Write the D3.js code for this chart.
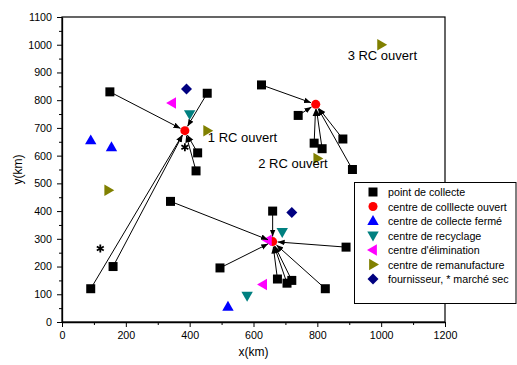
<!DOCTYPE html>
<html>
<head>
<meta charset="utf-8">
<script src="https://cdn.jsdelivr.net/npm/d3@7"></script>
<style>
  body { margin: 0; background: #fff; }
  svg { font-family: "Liberation Sans", Arial, sans-serif; }
</style>
</head>
<body>
<div id="chart"></div>
<script>
// data (km)
const collectPoints = [
  [150, 830], [455, 825], [425, 610], [420, 545], [90, 120], [160, 200],
  [625, 855], [740, 745], [790, 645], [815, 625], [880, 660], [910, 550],
  [660, 400], [340, 435], [495, 195], [675, 155], [705, 140], [720, 150], [825, 120], [890, 270]
]
// index of the open centre each collection point goes to
const assignTo = [0, 0, 0, 0, 0, 0, 1, 1, 1, 1, 1, 1, 2, 2, 2, 2, 2, 2, 2, 2]
const openCentres = [[385, 690], [795, 785], [660, 290]]
const closedCentres = [[90, 655], [155, 630], [520, 55]]
const recycling = [[400, 750], [690, 325], [580, 95]]
const disposal = [[345, 790], [645, 295], [630, 135]]
const remanufacture = [[455, 690], [800, 590], [1000, 1000], [145, 475]]
const suppliers = [[390, 840], [720, 395]]
const dryMarkets = [[385, 630], [120, 265]]
const rcLabels = [
  { text: "1 RC ouvert", x: 457, y: 650 },
  { text: "2 RC ouvert", x: 615, y: 555 },
  { text: "3 RC ouvert", x: 895, y: 945 }
]
const xTicks = [0, 200, 400, 600, 800, 1000, 1200]
const yTicks = [0, 100, 200, 300, 400, 500, 600, 700, 800, 900, 1000, 1100]

const legendItems = [
  { name: "point de collecte", shape: "square", color: "#000000" },
  { name: "centre de colllecte ouvert", shape: "circle", color: "#ff0000" },
  { name: "centre de collecte fermé", shape: "up", color: "#0000ff" },
  { name: "centre de recyclage", shape: "down", color: "#008080" },
  { name: "centre d'élimination", shape: "left", color: "#ff00ff" },
  { name: "centre de remanufacture", shape: "right", color: "#808000" },
  { name: "fournisseur, * marché sec", shape: "diamond", color: "#000080" }
]

const width = 517
const height = 365
const margin = { left: 62, right: 72, top: 17, bottom: 43 }

const svg = d3.select("#chart")
  .append("svg")
  .attr("width", width)
  .attr("height", height)

const x = d3.scaleLinear().domain([0, 1200]).range([margin.left, width - margin.right])
const y = d3.scaleLinear().domain([0, 1100]).range([height - margin.bottom, margin.top])

// shapes
const tri = (r) => "M0," + (-r) + "L" + (r * 0.95) + "," + (r * 0.65) + "L" + (-r * 0.95) + "," + (r * 0.65) + "Z"
const shapePath = (shape) => {
  switch (shape) {
    case "square": return "M-4.5,-4.5H4.5V4.5H-4.5Z"
    case "circle": return d3.symbol(d3.symbolCircle, 64)()
    case "diamond": return "M0,-5.5L5.5,0L0,5.5L-5.5,0Z"
    default: return tri(6)
  }
}
const rotation = { up: 0, down: 180, left: -90, right: 90 }

const drawMarker = (g, shape, color, px, py) => {
  g.append("path")
    .attr("d", shapePath(shape))
    .attr("fill", color)
    .attr("transform", "translate(" + px + "," + py + ") rotate(" + (rotation[shape] || 0) + ")")
}

// axes
svg.append("g")
  .attr("transform", "translate(0," + y(0) + ")")
  .call(d3.axisBottom(x).tickValues(xTicks).tickFormat(d3.format("d")).tickSize(5).tickSizeOuter(0).tickPadding(4))
svg.append("g")
  .attr("transform", "translate(0," + y(0) + ")")
  .call(d3.axisBottom(x).tickValues(d3.range(100, 1200, 200)).tickSize(3).tickFormat(""))
  .call(g => g.select(".domain").remove())

svg.append("g")
  .attr("transform", "translate(" + x(0) + ",0)")
  .call(d3.axisLeft(y).tickValues(yTicks).tickFormat(d3.format("d")).tickSize(5).tickSizeOuter(0).tickPadding(5))
svg.append("g")
  .attr("transform", "translate(" + x(0) + ",0)")
  .call(d3.axisLeft(y).tickValues(d3.range(50, 1100, 100)).tickSize(3).tickFormat(""))
  .call(g => g.select(".domain").remove())

svg.selectAll(".tick text")
  .style("font-size", "10.7px")
  .style("font-family", "'Liberation Sans', Arial, sans-serif")
  .attr("fill", "#000")
svg.selectAll(".tick line").attr("stroke", "#000")
svg.selectAll(".domain").attr("stroke", "#000").attr("stroke-width", 1.3)

// frame
svg.append("rect")
  .attr("x", x(0))
  .attr("y", y(1100))
  .attr("width", x(1200) - x(0))
  .attr("height", y(0) - y(1100))
  .attr("fill", "none")
  .attr("stroke", "#000")
  .attr("stroke-width", 1.2)

// axis titles
svg.append("text")
  .attr("x", (x(0) + x(1200)) / 2)
  .attr("y", 356)
  .attr("text-anchor", "middle")
  .style("font-size", "12px")
  .text("x(km)")
svg.append("text")
  .attr("transform", "translate(22," + ((y(0) + y(1100)) / 2) + ") rotate(-90)")
  .attr("text-anchor", "middle")
  .style("font-size", "12px")
  .text("y(km)")

// marker for arrows
svg.append("defs").append("marker")
  .attr("id", "arrow")
  .attr("viewBox", "0 0 10 10")
  .attr("refX", 10)
  .attr("refY", 5)
  .attr("markerWidth", 7)
  .attr("markerHeight", 7)
  .attr("markerUnits", "userSpaceOnUse")
  .attr("orient", "auto")
  .append("path")
  .attr("d", "M0,1L10,5L0,9Z")
  .attr("fill", "#000")

const marks = svg.append("g")

collectPoints.forEach(d => drawMarker(marks, "square", "#000000", x(d[0]), y(d[1])))
openCentres.forEach(d => drawMarker(marks, "circle", "#ff0000", x(d[0]), y(d[1])))
closedCentres.forEach(d => drawMarker(marks, "up", "#0000ff", x(d[0]), y(d[1])))
recycling.forEach(d => drawMarker(marks, "down", "#008080", x(d[0]), y(d[1])))
disposal.forEach(d => drawMarker(marks, "left", "#ff00ff", x(d[0]), y(d[1])))
remanufacture.forEach(d => drawMarker(marks, "right", "#808000", x(d[0]), y(d[1])))
suppliers.forEach(d => drawMarker(marks, "diamond", "#000080", x(d[0]), y(d[1])))

// arrows from collection points to open centres
const arrows = svg.append("g")
collectPoints.forEach((d, i) => {
  const c = openCentres[assignTo[i]]
  const x1 = x(d[0]), y1 = y(d[1]), x2 = x(c[0]), y2 = y(c[1])
  const len = Math.hypot(x2 - x1, y2 - y1)
  const cut = 5
  arrows.append("line")
    .attr("x1", x1)
    .attr("y1", y1)
    .attr("x2", x2 - (x2 - x1) / len * cut)
    .attr("y2", y2 - (y2 - y1) / len * cut)
    .attr("stroke", "#000")
    .attr("stroke-width", 1)
    .attr("marker-end", "url(#arrow)")
})

// dry market stars
svg.selectAll("path.star")
  .data(dryMarkets)
  .enter()
  .append("path")
  .attr("class", "star")
  .attr("d", d3.symbol(d3.symbolAsterisk, 45)())
  .attr("transform", d => "translate(" + x(d[0]) + "," + y(d[1]) + ")")
  .attr("fill", "none")
  .attr("stroke", "#000")
  .attr("stroke-width", 1.8)

// RC labels
svg.selectAll("text.rc")
  .data(rcLabels)
  .enter()
  .append("text")
  .attr("class", "rc")
  .attr("x", d => x(d.x))
  .attr("y", d => y(d.y))
  .style("font-size", "13px")
  .text(d => d.text)

// legend
const legend = svg.append("g")
legend.append("rect")
  .attr("x", 354.5)
  .attr("y", 182.5)
  .attr("width", 161.5)
  .attr("height", 121)
  .attr("fill", "#fff")
  .attr("stroke", "#000")
  .attr("stroke-width", 1)

legendItems.forEach((d, i) => {
  const ly = 192 + i * 14.5
  drawMarker(legend, d.shape, d.color, 373, ly)
  legend.append("text")
    .attr("x", 388)
    .attr("y", ly + 4)
    .style("font-size", "10.7px")
    .text(d.name)
})
</script>
</body>
</html>
